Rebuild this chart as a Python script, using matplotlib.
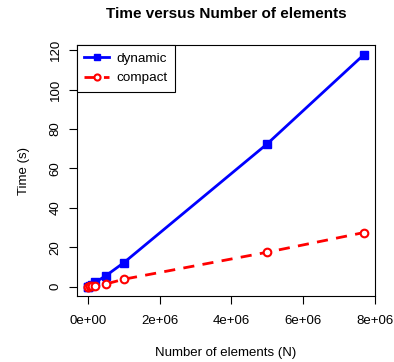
import matplotlib.pyplot as plt
import numpy as np

plt.rcParams["font.family"] = ["Liberation Sans", "DejaVu Sans"]

n_elements = [1e3, 1e4, 5e4, 1e5, 2e5, 5e5, 1e6, 5e6, 7.7e6]
t_dynamic = [0.01, 0.1, 0.5, 1.1, 2.2, 5.6, 12.2, 72.5, 117.8]
t_compact = [0.003, 0.03, 0.15, 0.3, 0.6, 1.4, 3.8, 17.5, 27.5]

fig = plt.figure(figsize=(3.94, 3.62), dpi=100)
ax = fig.add_axes([0.1954, 0.1823, 0.7564, 0.6926])

ax.plot(n_elements, t_dynamic, color="blue", lw=2, marker="s", ms=5.2,
        label="dynamic")
ax.plot(n_elements, t_compact, color="red", lw=2, ls=(0, (4, 3)), marker="o",
        ms=5.5, mfc="white", mew=1.5, label="compact")

# R-style 4% padding around the data range
xr = max(n_elements) - min(n_elements)
yr = max(t_dynamic) - 0
ax.set_xlim(min(n_elements) - 0.04 * xr, max(n_elements) + 0.04 * xr)
ax.set_ylim(-0.04 * yr, max(t_dynamic) + 0.04 * yr)

ax.set_xticks([0, 2e6, 4e6, 6e6, 8e6])
ax.set_xticklabels(["0e+00", "2e+06", "4e+06", "6e+06", "8e+06"])
ax.set_yticks([0, 20, 40, 60, 80, 100, 120])
ax.set_yticklabels(["0", "20", "40", "60", "80", "100", "120"], rotation=90,
                   va="center")
ax.tick_params(labelsize=9.5, length=6, width=0.8)
ax.tick_params(axis="x", pad=8)
ax.tick_params(axis="y", pad=5)
for s in ax.spines.values():
    s.set_linewidth(0.8)

ax.set_title("Time versus Number of elements", fontsize=11, fontweight="bold",
             pad=20)
ax.set_xlabel("Number of elements (N)", fontsize=9.5, labelpad=14)
ax.set_ylabel("Time (s)", fontsize=9.5, labelpad=14)

leg = ax.legend(loc="upper left", borderaxespad=0, fancybox=False,
                edgecolor="black", framealpha=1, fontsize=9.7,
                handlelength=1.8, handletextpad=0.6, borderpad=0.55,
                labelspacing=0.5, markerscale=0.8)
leg.get_frame().set_linewidth(0.8)

fig.savefig("out.png", dpi=100)
